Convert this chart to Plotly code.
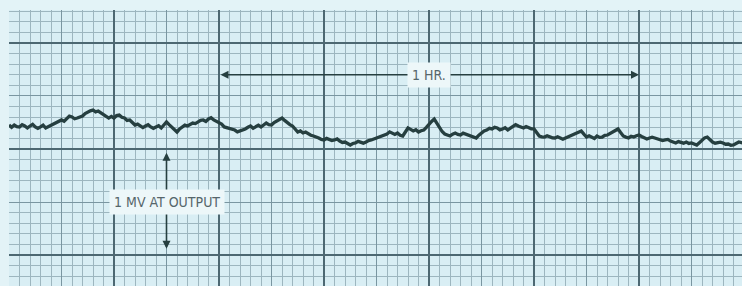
import plotly.graph_objects as go

# recorder trace, read every quarter division (1 major division = 10 minor)
signal = [
    12.26, 12.05, 12.26, 12.10, 12.08, 12.30, 12.17, 11.98, 12.17, 12.32,
    12.08, 11.95, 12.08, 12.25, 11.98, 12.10, 12.26, 12.40, 12.45, 12.60,
    12.74, 12.62, 12.92, 13.10, 13.02, 12.85, 12.92, 13.05, 13.11, 13.35,
    13.49, 13.60, 13.68, 13.50, 13.58, 13.40, 13.30, 13.05, 12.92, 13.08,
    12.92, 13.15, 13.21, 13.00, 12.92, 12.70, 12.74, 12.50, 12.26, 12.35,
    12.17, 12.02, 12.17, 12.30, 12.08, 11.95, 12.08, 12.20, 11.98, 12.30,
    12.55, 12.30, 12.08, 11.80, 11.60, 11.90, 12.08, 12.25, 12.17, 12.35,
    12.45, 12.40, 12.55, 12.70, 12.74, 12.60, 12.83, 12.95, 12.74, 12.62,
    12.55, 12.35, 12.08, 12.00, 11.98, 11.85, 11.79, 11.62, 11.70, 11.85,
    11.89, 12.05, 12.17, 11.95, 12.08, 12.25, 12.08, 12.30, 12.45, 12.30,
    12.26, 12.50, 12.64, 12.80, 12.92, 12.70, 12.45, 12.30, 12.17, 11.85,
    11.60, 11.70, 11.51, 11.60, 11.42, 11.30, 11.23, 11.15, 11.04, 10.90,
    10.85, 11.00, 10.94, 10.80, 10.85, 10.95, 10.75, 10.62, 10.66, 10.50,
    10.38, 10.52, 10.57, 10.72, 10.66, 10.55, 10.66, 10.80, 10.85, 10.95,
    11.04, 11.20, 11.23, 11.35, 11.42, 11.62, 11.51, 11.38, 11.51, 11.30,
    11.23, 11.55, 11.98, 11.85, 11.70, 11.82, 11.60, 11.72, 11.79, 12.05,
    12.36, 12.60, 12.83, 12.40, 11.98, 11.65, 11.42, 11.30, 11.23, 11.40,
    11.51, 11.38, 11.32, 11.50, 11.42, 11.28, 11.23, 11.10, 11.04, 11.30,
    11.51, 11.70, 11.79, 11.95, 11.89, 12.05, 11.98, 11.80, 11.89, 12.00,
    11.79, 11.95, 12.17, 12.30, 12.17, 12.05, 11.98, 12.12, 11.98, 11.90,
    11.89, 11.55, 11.23, 11.15, 11.13, 11.25, 11.13, 11.05, 11.04, 11.15,
    11.04, 10.92, 11.04, 11.15, 11.23, 11.30, 11.42, 11.55, 11.70, 11.40,
    11.13, 11.25, 11.13, 11.00, 11.23, 11.10, 11.13, 11.28, 11.32, 11.45,
    11.60, 11.75, 11.89, 11.55, 11.23, 11.12, 11.04, 11.20, 11.13, 11.25,
    11.32, 11.18, 11.04, 10.95, 11.04, 11.12, 11.04, 10.95, 10.94, 10.80,
    10.85, 10.90, 10.75, 10.62, 10.57, 10.70, 10.66, 10.55, 10.66, 10.52,
    10.57, 10.45, 10.38, 10.60, 10.85, 11.05, 11.13, 10.90, 10.66, 10.55,
    10.57, 10.65, 10.57, 10.45, 10.47, 10.35, 10.38, 10.52, 10.66, 10.60,
    10.57,
]
t_div = [i * 0.25 for i in range(len(signal))]

hr_start, hr_end, hr_level, hr_label = 20, 60, 17.0, "1 HR."
mv_x, mv_low, mv_high, mv_label = 15, 0, 10, "1 MV AT OUTPUT"

X_RANGE = [0, 69.81]
Y_RANGE = [-2.92, 23.11]

BG = "#d9eef4"
PAPER = "#e3f3f7"
MINOR = "#9db6bf"
MEDIUM = "#7a96a1"
MAJOR = "#4d6872"
INK = "#263f40"
TXT = "#56666b"
FONT = "DejaVu Sans Condensed, Liberation Sans Narrow, Arial Narrow, sans-serif"

fig = go.Figure()

# invisible traces so both axis pairs (fine grid and heavy grid) are active
fig.add_trace(go.Scatter(x=[X_RANGE[0]], y=[Y_RANGE[0]], mode="markers",
                         marker=dict(opacity=0), hoverinfo="skip",
                         showlegend=False, xaxis="x", yaxis="y"))
fig.add_trace(go.Scatter(x=[X_RANGE[0]], y=[Y_RANGE[0]], mode="markers",
                         marker=dict(opacity=0), hoverinfo="skip",
                         showlegend=False, xaxis="x2", yaxis="y2"))

fig.add_trace(go.Scatter(x=t_div, y=signal, mode="lines",
                         line=dict(color=INK, width=3.3),
                         showlegend=False, xaxis="x2", yaxis="y2"))

common = dict(showticklabels=False, ticks="", zeroline=False, showline=False)

fig.update_layout(
    width=742, height=286,
    margin=dict(l=9, r=0, t=10, b=0),
    paper_bgcolor=PAPER, plot_bgcolor=BG,
    xaxis=dict(range=X_RANGE, tick0=0, dtick=5, showgrid=True,
               gridcolor=MEDIUM, gridwidth=1.3,
               minor=dict(tick0=0, dtick=1, showgrid=True, gridcolor=MINOR, gridwidth=1),
               **common),
    yaxis=dict(range=Y_RANGE, tick0=0, dtick=5, showgrid=True,
               gridcolor=MEDIUM, gridwidth=1.3,
               minor=dict(tick0=0, dtick=1, showgrid=True, gridcolor=MINOR, gridwidth=1),
               **common),
    xaxis2=dict(range=X_RANGE, overlaying="x", tick0=0, dtick=10, showgrid=True,
                gridcolor=MAJOR, gridwidth=1.8, **common),
    yaxis2=dict(range=Y_RANGE, overlaying="y", tick0=0, dtick=10, showgrid=True,
                gridcolor=MAJOR, gridwidth=1.8, **common),
)

# 1 HR arrow
fig.add_annotation(x=hr_end, y=hr_level, ax=hr_start, ay=hr_level,
                   xref="x2", yref="y2", axref="x2", ayref="y2",
                   text="", showarrow=True, arrowhead=2, arrowside="end+start",
                   arrowsize=1, arrowwidth=1.6, arrowcolor=INK)
fig.add_annotation(x=(hr_start + hr_end) / 2, y=hr_level, xref="x2", yref="y2",
                   text=hr_label, showarrow=False,
                   font=dict(family=FONT, size=14, color=TXT),
                   bgcolor="#edf7f9", borderpad=4)

# 1 MV arrow
fig.add_annotation(x=mv_x, y=mv_high - 0.35, ax=mv_x, ay=mv_low + 0.45,
                   xref="x2", yref="y2", axref="x2", ayref="y2",
                   text="", showarrow=True, arrowhead=2, arrowside="end+start",
                   arrowsize=1, arrowwidth=1.6, arrowcolor=INK)
fig.add_annotation(x=mv_x, y=(mv_low + mv_high) / 2, xref="x2", yref="y2",
                   text=mv_label, showarrow=False,
                   font=dict(family=FONT, size=14, color=TXT),
                   bgcolor="#edf7f9", borderpad=4)

fig.write_html("out.html", config={"displayModeBar": False},
               post_script="document.body.style.margin='0';"
                           "document.body.style.overflow='hidden';")
